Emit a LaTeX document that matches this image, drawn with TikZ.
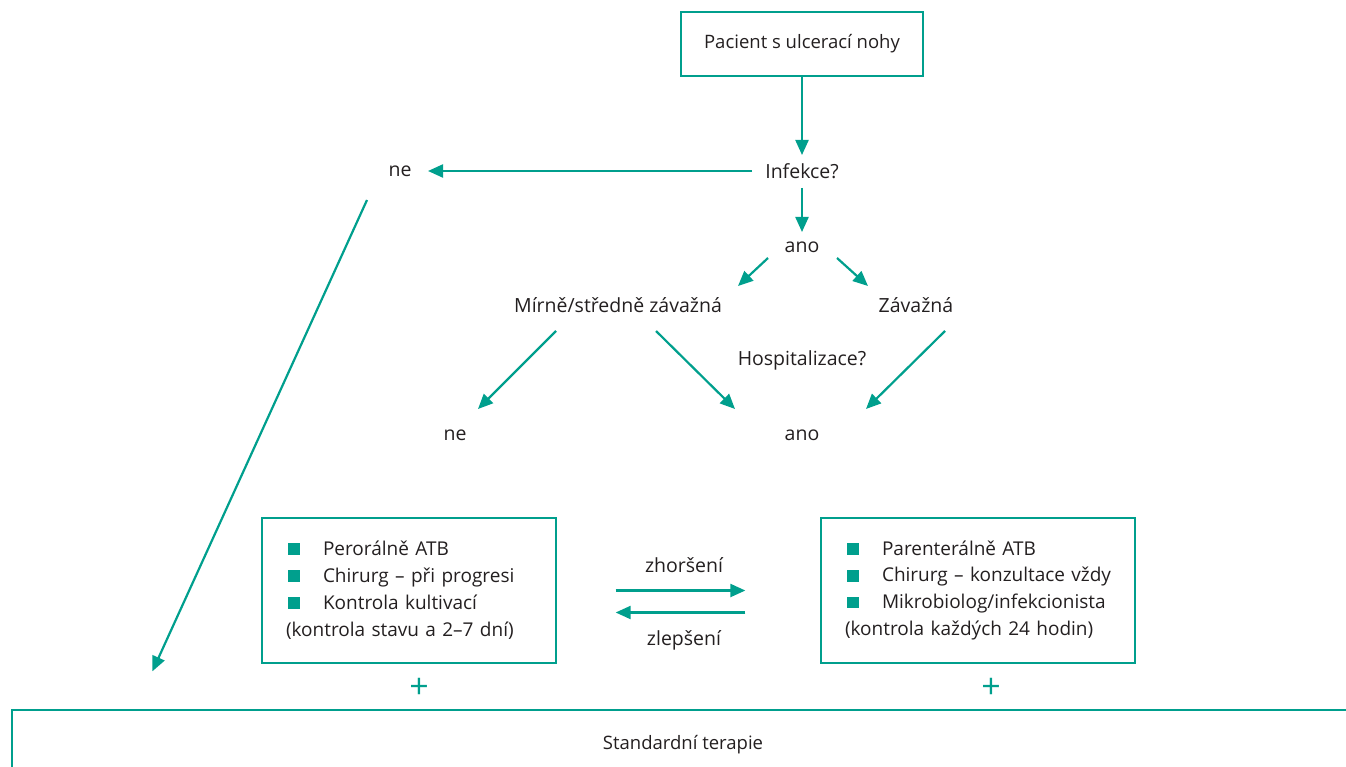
\documentclass[tikz,border=0pt]{standalone}
\usepackage{fontspec}
\setmainfont{Open Sans}
\usepackage{xcolor}
\usepackage{tikz}
\usetikzlibrary{arrows.meta,positioning,calc}

\definecolor{zelena}{HTML}{009F8D}
\definecolor{seda}{HTML}{231F20}
\newcommand{\ctverec}{\hspace*{4pt}\textcolor{zelena}{\rule[0.5pt]{12pt}{12pt}}\hspace{23pt}}

\begin{document}
\begin{tikzpicture}[
    x=1pt, y=-1pt,
    every node/.style={text=seda, font=\fontsize{19.5}{27}\selectfont},
    txt/.style={inner sep=0pt},
    ramec/.style={draw=zelena, line width=1.3pt, inner xsep=22pt, inner ysep=0pt, align=left,
                  font=\fontsize{19}{27}\selectfont},
    plus/.style={text=zelena, font=\fontsize{34}{34}\selectfont, inner sep=0pt},
    line/.style={draw=zelena, line width=2.2pt, -{Triangle[length=15pt,width=13pt]}}
]
    \clip (0,0) rectangle (1346,767);

    \node [draw=zelena, line width=1.3pt, minimum width=242pt, minimum height=64pt,
           font=\fontsize{18.5}{22}\selectfont] (pacient) at (802,44) {Pacient s ulcerací nohy};
    \node [txt] (infekce) at (802,171) {Infekce?};
    \node [txt] (ne1) at (400,171) {ne};
    \node [txt] (ano1) at (802,247) {ano};
    \node [txt] (mirne) at (618,305) {Mírně/středně závažná};
    \node [txt] (zavazna) at (916,305) {Závažná};
    \node [txt] (hosp) at (802,360) {Hospitalizace?};
    \node [txt] (ne2) at (455,435) {ne};
    \node [txt] (ano2) at (802,435) {ano};

    \node [ramec, minimum width=294pt, minimum height=145pt, text width=250pt] (atbL) at (409,590.5)
        {\ctverec Perorálně ATB\\ \ctverec Chirurg – při progresi\\ \ctverec Kontrola kultivací\\ \hspace*{2pt}(kontrola stavu a 2–7 dní)};
    \node [ramec, minimum width=314pt, minimum height=145pt, text width=270pt] (atbR) at (978,590.5)
        {\ctverec Parenterálně ATB\\ \ctverec Chirurg – konzultace vždy\\ \ctverec Mikrobiolog/infekcionista\\ \hspace*{2pt}(kontrola každých 24 hodin)};

    \node [txt] (zhorseni) at (684,565) {zhoršení};
    \node [txt] (zlepseni) at (684,640) {zlepšení};
    \node [plus] (plusL) at (419,688) {+};
    \node [plus] (plusR) at (991,688) {+};

    \node [draw=zelena, line width=1.3pt, minimum width=1342pt, minimum height=70pt,
           font=\fontsize{18.5}{22}\selectfont] (terapie) at (683,745) {Standardní terapie};

    % sipky
    \draw [line] (pacient.south) -- ([shift={(0,-16)}]infekce.center);
    \draw [line] ([shift={(-50,0)}]infekce.center) -- ([shift={(28,0)}]ne1.center);
    \draw [line] ([shift={(0,17)}]infekce.center) -- ([shift={(0,-15)}]ano1.center);
    \draw [line] ([shift={(-34,11)}]ano1.center) -- ([shift={(120,-19)}]mirne.center);
    \draw [line] ([shift={(35,11)}]ano1.center) -- ([shift={(-48,-19)}]zavazna.center);
    \draw [line] ([shift={(-62,26)}]mirne.center) -- ([shift={(23,-26)}]ne2.center);
    \draw [line] ([shift={(38,26)}]mirne.center) -- ([shift={(-67,-26)}]ano2.center);
    \draw [line] ([shift={(29,26)}]zavazna.center) -- ([shift={(64,-26)}]ano2.center);
    \draw [line] ([shift={(-33,29)}]ne1.center) -- ([shift={(141,-38)}]terapie.north west);
    \draw [line] ([shift={(59,0)}]atbL.east) -- ([shift={(-75,0)}]atbR.west);
    \draw [line] ([shift={(-75,22)}]atbR.west) -- ([shift={(59,22)}]atbL.east);
\end{tikzpicture}
\end{document}
